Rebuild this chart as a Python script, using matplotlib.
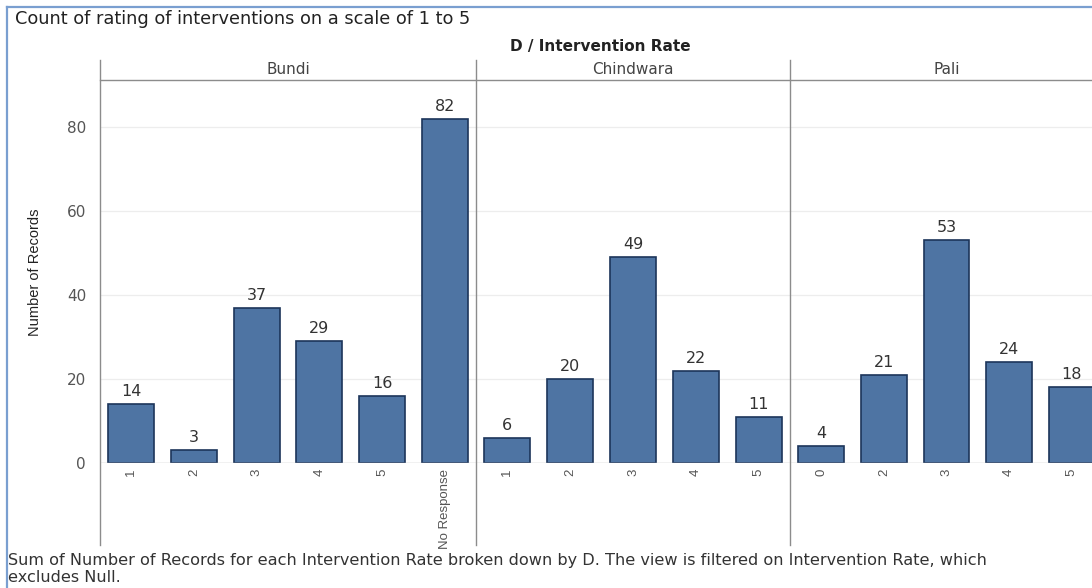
import matplotlib
matplotlib.use("Agg")
import matplotlib.pyplot as plt
from matplotlib.lines import Line2D

# Data: count of ratings per district
districts = ["Bundi", "Chindwara", "Pali"]
bundi_rates = ["1", "2", "3", "4", "5", "No Response"]
bundi_counts = [14, 3, 37, 29, 16, 82]
chindwara_rates = ["1", "2", "3", "4", "5"]
chindwara_counts = [6, 20, 49, 22, 11]
pali_rates = ["0", "2", "3", "4", "5"]
pali_counts = [4, 21, 53, 24, 18]
y_ticks = [0, 20, 40, 60, 80]

W, H = 1092, 588
fig = plt.figure(figsize=(W / 100, H / 100), dpi=100)
fig.patch.set_facecolor("white")

BAR = "#4e74a3"
EDGE = "#1c355a"
TXT = "#333333"
GRID = "#ededed"
DIV = "#8c8c8c"

FONT = "DejaVu Sans"
NARROW = ["Liberation Sans", "DejaVu Sans"]


def px_rect(x0, y0, x1, y1):
    """Convert a pixel box (top-left origin) to figure fractions."""
    return [x0 / W, 1 - y1 / H, (x1 - x0) / W, (y1 - y0) / H]


def px(x, y):
    return x / W, 1 - y / H


base_y = 463
top_y = 81
px_per_unit = 4.2
ymax = (base_y - top_y) / px_per_unit

panels = [
    ("Bundi", bundi_rates, bundi_counts, 100, 476),
    ("Chindwara", chindwara_rates, chindwara_counts, 476, 790),
    ("Pali", pali_rates, pali_counts, 790, 1103),
]

for name, rates, counts, x0, x1 in panels:
    ax = fig.add_axes(px_rect(x0, top_y, x1, base_y))
    ax.set_xlim(-0.5, len(rates) - 0.5)
    ax.set_ylim(0, ymax)
    for s in ax.spines.values():
        s.set_visible(False)
    ax.set_yticks(y_ticks)
    ax.yaxis.grid(True, color=GRID, linewidth=0.9)
    ax.set_axisbelow(True)
    ax.tick_params(axis="y", length=0, labelleft=(x0 == 100),
                   labelsize=11, labelcolor="#555555", pad=10)
    positions = list(range(len(rates)))
    ax.bar(positions, counts, width=0.73, color=BAR, edgecolor=EDGE,
           linewidth=1.2, zorder=3)
    for p, v in zip(positions, counts):
        ax.text(p, v + 1.2, str(v), ha="center", va="bottom",
                fontsize=11.5, color=TXT, family=FONT)
    ax.set_xticks(positions)
    ax.set_xticklabels(rates, rotation=90, fontsize=9.5, color="#555555",
                       va="top", ha="center", family=NARROW)
    ax.tick_params(axis="x", length=0, pad=4)
    ax.axhline(0, color="#c8c8c8", linewidth=1.0, zorder=4)
    # panel header
    fig.text(*px((x0 + x1) / 2, 70), name, ha="center", va="center",
             fontsize=11, color="#444444", family=FONT)

# header rule and panel dividers
fig.add_artist(Line2D([100 / W, 1], [1 - 80 / H] * 2, color=DIV, linewidth=1.0))
for xd in (100, 476, 790):
    fig.add_artist(Line2D([xd / W] * 2, [1 - 60 / H, 1 - 545 / H],
                          color=DIV, linewidth=1.0))

# outer worksheet frame
fig.add_artist(Line2D([7 / W, 7 / W], [1 - 7 / H, 0], color="#7a9fd0", linewidth=1.6))
fig.add_artist(Line2D([7 / W, 1], [1 - 7 / H] * 2, color="#7a9fd0", linewidth=1.6))

# titles
fig.text(*px(15, 19), "Count of rating of interventions on a scale of 1 to 5",
         ha="left", va="center", fontsize=12.8, color="#222222", family=FONT,
         fontweight="medium")
fig.text(*px(600, 47), "D / Intervention Rate", ha="center", va="center",
         fontsize=11, color="#222222", family=FONT, fontweight="bold")
fig.text(*px(35, 272), "Number of Records", rotation=90, ha="center",
         va="center", fontsize=10.5, color="#222222", family=NARROW)

# caption
fig.text(*px(8, 561),
         "Sum of Number of Records for each Intervention Rate broken down by D. "
         "The view is filtered on Intervention Rate, which",
         ha="left", va="center", fontsize=11.6, color="#333333", family=FONT)
fig.text(*px(8, 578), "excludes Null.", ha="left", va="center",
         fontsize=11.6, color="#333333", family=FONT)

fig.savefig("out.png", dpi=100, facecolor="white")
